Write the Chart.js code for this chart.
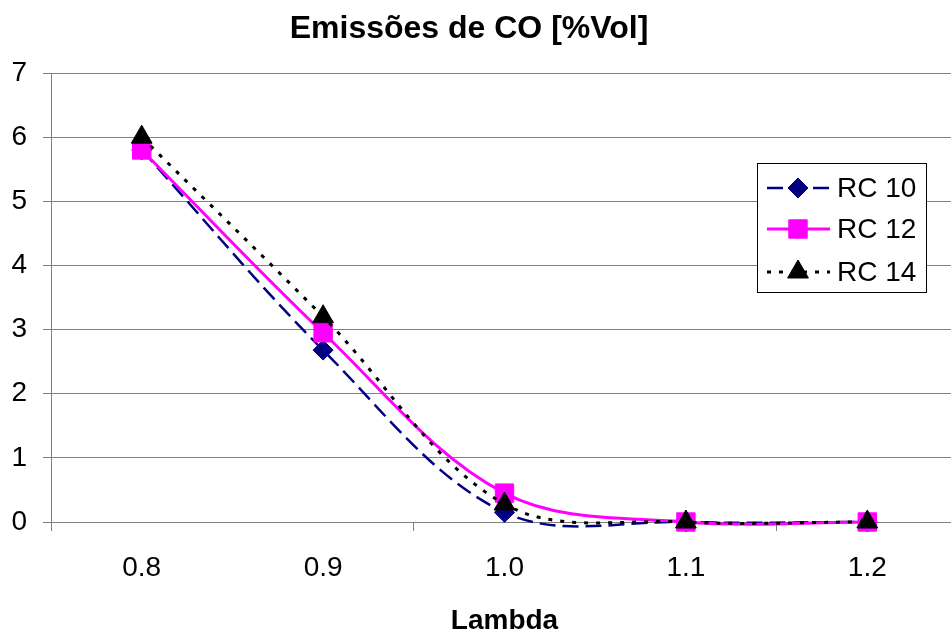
<!DOCTYPE html>
<html><head><meta charset="utf-8">
<script src="https://cdn.jsdelivr.net/npm/chart.js@4"></script>
<style>
html,body{margin:0;padding:0;background:#fff;overflow:hidden;width:951px;height:635px}
#wrap{width:951px;height:635px;overflow:hidden;position:relative;background:#fff}
#wrap canvas{position:absolute;left:0;top:0}
</style></head><body>
<div id="wrap"><canvas id="c" width="972" height="635"></canvas></div>
<script>
const categories = ['0.8', '0.9', '1.0', '1.1', '1.2'];
const rc10 = [5.8, 2.68, 0.15, 0, 0];
const rc12 = [5.8, 2.95, 0.45, 0, 0];
const rc14 = [6.0, 3.2, 0.28, 0, 0];
const seriesNames = ['RC 10', 'RC 12', 'RC 14'];
const yTicks = [0, 1, 2, 3, 4, 5, 6, 7];
const chartTitle = 'Emissões de CO [%Vol]';
const xTitle = 'Lambda';

Chart.defaults.font.family = "'Liberation Sans', Arial, sans-serif";
Chart.defaults.color = '#000';

const titlePlugin = {
  id: 'xlTitle',
  afterDraw(chart) {
    const ctx = chart.ctx;
    ctx.save();
    ctx.font = "bold 32px 'Liberation Sans', Arial, sans-serif";
    ctx.fillStyle = '#000';
    ctx.textAlign = 'center';
    ctx.textBaseline = 'alphabetic';
    ctx.fillText(chartTitle, 469, 38);
    ctx.restore();
  }
};

const legendPlugin = {
  id: 'xlLegend',
  afterDraw(chart) {
    const ctx = chart.ctx;
    const bx = 757, by = 163, bw = 169, bh = 129;
    ctx.save();
    ctx.fillStyle = '#fff';
    ctx.fillRect(bx, by, bw, bh);
    ctx.strokeStyle = '#000';
    ctx.lineWidth = 1;
    ctx.strokeRect(bx + 0.5, by + 0.5, bw, bh);
    const rows = [188, 229, 272];
    chart.data.datasets.forEach((ds, i) => {
      const y = rows[i];
      ctx.save();
      ctx.strokeStyle = ds.borderColor;
      ctx.lineWidth = ds.borderWidth;
      ctx.setLineDash(ds.borderDash || []);
      ctx.beginPath();
      ctx.moveTo(767, y);
      ctx.lineTo(830, y);
      ctx.stroke();
      ctx.restore();
      ctx.save();
      ctx.fillStyle = ds.pointBackgroundColor;
      ctx.strokeStyle = ds.pointBorderColor;
      ctx.lineWidth = ds.pointBorderWidth;
      Chart.helpers.drawPoint(ctx, {pointStyle: ds.pointStyle, radius: ds.pointRadius, borderWidth: ds.pointBorderWidth, rotation: 0}, 798, y);
      ctx.restore();
      ctx.fillStyle = '#000';
      ctx.font = "28px 'Liberation Sans', Arial, sans-serif";
      ctx.textAlign = 'left';
      ctx.textBaseline = 'middle';
      ctx.fillText(ds.label, 837, y + 1);
    });
    ctx.restore();
  }
};

new Chart(document.getElementById('c'), {
  type: 'line',
  data: {
    labels: categories,
    datasets: [
      {
        label: seriesNames[0], data: rc10, order: 3,
        borderColor: '#000080', backgroundColor: '#000080', borderWidth: 2.5, borderDash: [16, 7],
        pointStyle: 'rectRot', pointRadius: 10, pointBackgroundColor: '#000080', pointBorderColor: '#000080', pointBorderWidth: 1,
        tension: 0.35, clip: false, fill: false
      },
      {
        label: seriesNames[1], data: rc12, order: 2,
        borderColor: '#FF00FF', backgroundColor: '#FF00FF', borderWidth: 3,
        pointStyle: 'rect', pointRadius: 13, pointBackgroundColor: '#FF00FF', pointBorderColor: '#FF00FF', pointBorderWidth: 1,
        tension: 0.35, clip: false, fill: false
      },
      {
        label: seriesNames[2], data: rc14, order: 1,
        borderColor: '#000000', backgroundColor: '#000000', borderWidth: 3, borderDash: [4, 8],
        pointStyle: 'triangle', pointRadius: 12, pointBackgroundColor: '#000000', pointBorderColor: '#000000', pointBorderWidth: 1,
        tension: 0.35, clip: false, fill: false
      }
    ]
  },
  options: {
    responsive: false,
    devicePixelRatio: 1,
    animation: false,
    layout: {padding: {top: 73, left: 0, right: 1, bottom: 0}},
    elements: {line: {capBezierPoints: false}},
    plugins: {legend: {display: false}, tooltip: {enabled: false}, title: {display: false}},
    scales: {
      x: {
        type: 'category', offset: true,
        grid: {offset: true, drawOnChartArea: false, tickLength: 9,
          color: c => (c.index % 2 === 0 ? '#808080' : 'rgba(0,0,0,0)')},
        border: {color: '#808080', width: 1},
        ticks: {color: '#000', font: {size: 28}, padding: 20, maxRotation: 0, autoSkip: false},
        title: {display: true, text: xTitle, color: '#000', font: {size: 28, weight: 'bold'}, padding: {top: 0, bottom: -3}},
        afterFit: s => { s.height = 113; }
      },
      y: {
        min: 0, max: 7,
        afterBuildTicks: s => { s.ticks = yTicks.map(v => ({value: v})); },
        ticks: {color: '#000', font: {size: 28}, padding: 16},
        grid: {color: '#808080', lineWidth: 1, tickLength: 8, tickColor: '#808080'},
        border: {color: '#808080', width: 1},
        afterFit: s => { s.width = 51; }
      }
    }
  },
  plugins: [titlePlugin, legendPlugin]
});
</script>
</body></html>
